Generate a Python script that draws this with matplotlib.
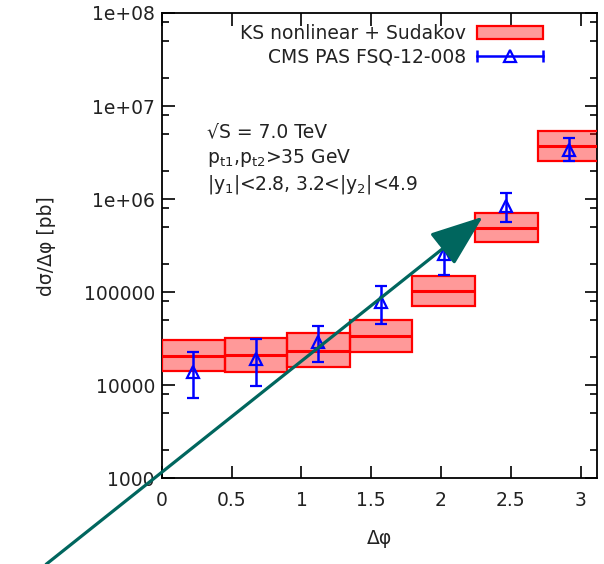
import matplotlib
matplotlib.use('Agg')
import matplotlib.pyplot as plt
import numpy as np
from matplotlib.lines import Line2D
from matplotlib.patches import Patch, FancyArrowPatch
from matplotlib.legend_handler import HandlerLine2D
from matplotlib.ticker import FixedLocator, NullFormatter

# KS nonlinear + Sudakov bands (7 bins in delta phi)
bin_edges = np.linspace(0, np.pi, 8)
ks_central = [20900, 21000, 23700, 34200, 103800, 495000, 3.77e6]
ks_upper   = [30700, 32000, 36300, 50300, 150000, 716000, 5.46e6]
ks_lower   = [14100, 14000, 15900, 22700, 71600, 351000, 2.60e6]

# CMS PAS FSQ-12-008 data
cms_val = [13900, 19300, 29100, 78000, 256000, 844000, 3.41e6]
cms_hi  = [23100, 31500, 43800, 116000, 342000, 1.175e6, 4.55e6]
cms_lo  = [7300, 9730, 17700, 45700, 154000, 574000, 2.60e6]

ytick_vals = [1e3, 1e4, 1e5, 1e6, 1e7, 1e8]
ytick_labels = ['1000', '10000', '100000', '1e+06', '1e+07', '1e+08']
xtick_vals = [0, 0.5, 1, 1.5, 2, 2.5, 3]
xtick_labels = ['0', '0.5', '1', '1.5', '2', '2.5', '3']

txt = '#222222'
red = '#ff0000'
blue = '#0000ff'
fs = 13.5

fig = plt.figure(figsize=(6.04, 5.64), dpi=100)
ax = fig.add_axes([0.268, 0.1516, 0.721, 0.8254])

centers = 0.5 * (bin_edges[:-1] + bin_edges[1:])
width = np.diff(bin_edges)
lo = np.array(ks_lower)
hi = np.array(ks_upper)

ax.bar(centers, hi - lo, bottom=lo, width=width, color='#ff0000', alpha=0.4,
       edgecolor='none', zorder=2)
ax.bar(centers, hi - lo, bottom=lo, width=width, facecolor='none',
       edgecolor=red, linewidth=1.6, zorder=3)
ax.hlines(ks_central, bin_edges[:-1], bin_edges[1:], color=red, linewidth=2.2, zorder=3)

val = np.array(cms_val)
yerr = [val - np.array(cms_lo), np.array(cms_hi) - val]
ax.errorbar(centers, val, yerr=yerr, fmt='^', color=blue, mfc='none', mec=blue,
            ms=8, mew=1.6, elinewidth=1.8, capsize=4, capthick=1.8, zorder=4)

ax.set_yscale('log')
ax.set_ylim(1e3, 1e8)
ax.set_xlim(0, 3.12)
ax.yaxis.set_major_locator(FixedLocator(ytick_vals))
ax.set_yticklabels(ytick_labels)
minors = [m * 10.0 ** e for e in range(3, 8) for m in (2, 5, 8)]
ax.yaxis.set_minor_locator(FixedLocator(minors))
ax.yaxis.set_minor_formatter(NullFormatter())
ax.set_xticks(xtick_vals)
ax.set_xticklabels(xtick_labels)
ax.tick_params(which='both', direction='in', top=True, right=True,
               labelsize=fs, labelcolor=txt, width=1.2)
ax.tick_params(which='major', length=9)
ax.tick_params(which='minor', length=5)
ax.tick_params(axis='x', which='major', pad=9)
ax.tick_params(axis='y', which='major', pad=5)
for s in ax.spines.values():
    s.set_linewidth(1.3)

ax.set_xlabel('Δφ', fontsize=fs, color=txt, labelpad=14)
ax.set_ylabel('dσ/Δφ [pb]', fontsize=fs, color=txt, labelpad=20)

ax.text(0.103, 0.745, '√S = 7.0 TeV', transform=ax.transAxes, fontsize=fs,
        color=txt, va='center')
ax.text(0.103, 0.689, r'p$_\mathregular{t1}$,p$_\mathregular{t2}$>35 GeV',
        transform=ax.transAxes, fontsize=fs, color=txt, va='center')
ax.text(0.103, 0.631, r'|y$_\mathregular{1}$|<2.8, 3.2<|y$_\mathregular{2}$|<4.9',
        transform=ax.transAxes, fontsize=fs, color=txt, va='center')

# legend in gnuplot style: label on the left, sample on the right
box_h = Patch(facecolor='#ff9999', edgecolor=red, linewidth=1.6)
cap_h = Line2D([], [], color=blue, lw=1.8, marker='|', ms=9, mew=1.8)
tri_h = Line2D([], [], color=blue, lw=0, marker='^', mfc='none', mec=blue, ms=8, mew=1.6)
leg = ax.legend([box_h, (cap_h, tri_h)],
                ['KS nonlinear + Sudakov', 'CMS PAS FSQ-12-008'],
                handler_map={cap_h: HandlerLine2D(numpoints=2, marker_pad=0),
                             tri_h: HandlerLine2D(numpoints=1)},
                loc='upper right', bbox_to_anchor=(0.905, 1.005), markerfirst=False,
                frameon=False, fontsize=fs, handlelength=3.5, handletextpad=0.6,
                labelspacing=0.25, borderaxespad=0.3)
for t in leg.get_texts():
    t.set_color(txt)

# overlaid annotation arrow
arrow = FancyArrowPatch((44 / 604, 1 - 566 / 564), (485 / 604, 1 - 215 / 564),
                        transform=fig.transFigure, arrowstyle='-|>,head_length=33,head_width=12.5',
                        mutation_scale=1, color='#00665e', linewidth=2.3, zorder=10)
fig.patches.append(arrow)

fig.savefig('out.png', dpi=100)
plt.close(fig)
